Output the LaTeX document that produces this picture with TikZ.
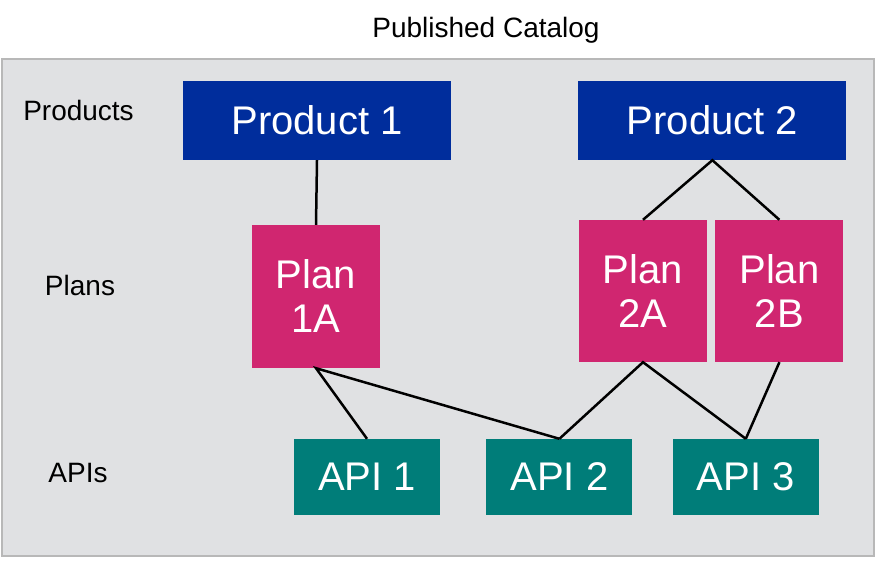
\documentclass[tikz,border=0pt]{standalone}
\usepackage{fontspec}
\setmainfont{Liberation Sans}
\usepackage{tikz}
\usetikzlibrary{positioning}
\definecolor{prodblue}{HTML}{002D9C}
\definecolor{planpink}{HTML}{D02670}
\definecolor{apiteal}{HTML}{007D79}
\definecolor{catgray}{HTML}{E0E1E3}
\definecolor{catedge}{HTML}{B8B8B8}

\begin{document}
\begin{tikzpicture}[
  x=1pt, y=-1pt,
  node distance=8pt,
  box/.style={inner sep=0pt, text=white, align=center, font=\fontsize{40}{44}\selectfont},
  product/.style={box, fill=prodblue, minimum width=268pt, minimum height=79pt},
  plan/.style={box, fill=planpink, minimum width=128pt, minimum height=142pt},
  api/.style={box, fill=apiteal, minimum width=146pt, minimum height=76pt},
  layer/.style={anchor=base, font=\fontsize{28}{32}\selectfont},
  link/.style={line width=2.5pt}
]
\useasboundingbox (0,0) rectangle (876,560);
\draw[fill=catgray, draw=catedge, line width=2.5pt] (2,59) rectangle (874,556);
\node[layer] (title) at (486,37) {Published Catalog};

\node[layer] (products) at (78.5,120) {Products};
\node[layer] (plans) at (80,295) {Plans};
\node[layer] (apis) at (78,482) {APIs};

\node[product] (product1) at (317,120.5) {Product 1};
\node[product, right=127pt of product1] (product2) {Product 2};

\node[plan, minimum height=143pt] (plan1a) at (316,296.5) {Plan\\1A};
\node[plan] (plan2a) at (643,291) {Plan\\2A};
\node[plan, right=of plan2a] (plan2b) {Plan\\2B};

\node[api] (api1) at (367,477) {API 1};
\node[api, right=46pt of api1] (api2) {API 2};
\node[api, right=40pt of api2] (api3) {API 3};

\draw[link] (product1.south) -- (plan1a.north);
\draw[link] (plan2a.north) -- (product2.south) -- (plan2b.north);
\draw[link] (api1.north) -- (plan1a.south) -- (api2.north);
\draw[link] (api2.north) -- (plan2a.south) -- (api3.north);
\draw[link] (plan2b.south) -- (api3.north);
\end{tikzpicture}
\end{document}
